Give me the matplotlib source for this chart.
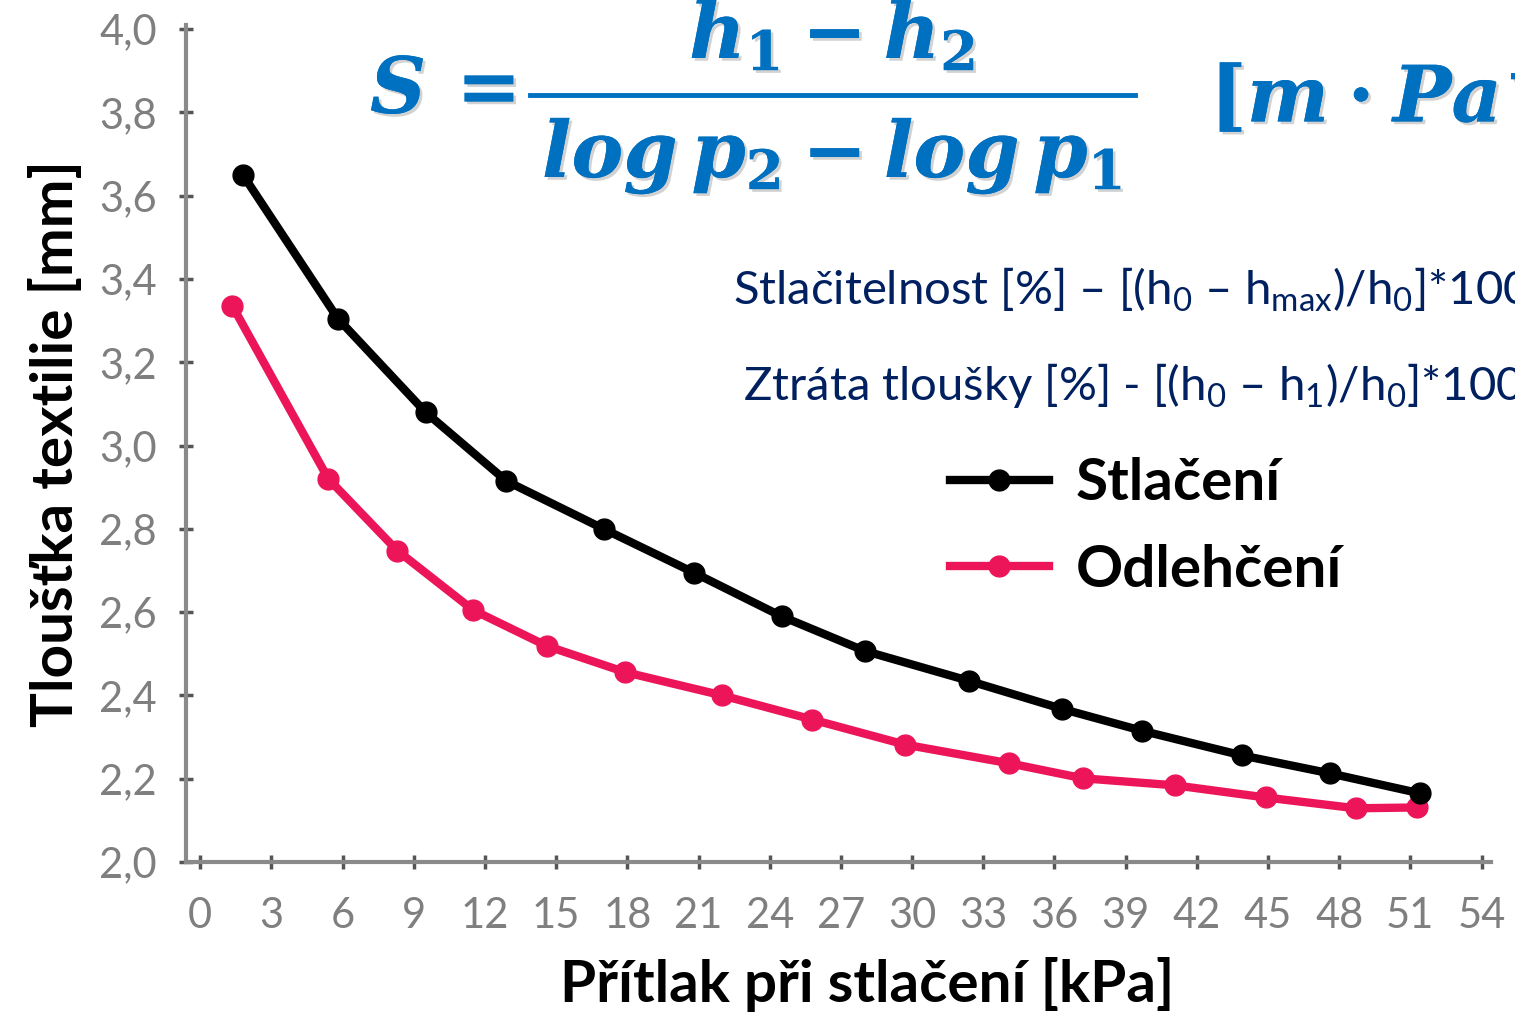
import matplotlib
matplotlib.use('Agg')
import matplotlib.pyplot as plt
import matplotlib.patheffects as pe
from matplotlib.lines import Line2D

plt.rcParams['font.family'] = ['Lato', 'DejaVu Sans']
plt.rcParams['mathtext.fontset'] = 'custom'
plt.rcParams['mathtext.it'] = 'DejaVu Serif:italic:bold'
plt.rcParams['mathtext.rm'] = 'DejaVu Serif:bold'
plt.rcParams['mathtext.bf'] = 'DejaVu Serif:bold'
plt.rcParams['mathtext.sf'] = 'Lato'

# data
x_stlaceni = [1.8, 5.8, 9.5, 12.9, 17.0, 20.8, 24.5, 28.0, 32.4, 36.3, 39.7, 43.9, 47.6, 51.4]
y_stlaceni = [3.65, 3.305, 3.08, 2.915, 2.80, 2.695, 2.59, 2.507, 2.435, 2.368, 2.315, 2.256, 2.213, 2.165]

x_odlehceni = [1.35, 5.4, 8.3, 11.5, 14.6, 17.9, 22.0, 25.8, 29.7, 34.1, 37.2, 41.1, 44.9, 48.7, 51.3]
y_odlehceni = [3.336, 2.92, 2.748, 2.605, 2.519, 2.456, 2.40, 2.342, 2.282, 2.237, 2.201, 2.184, 2.155, 2.129, 2.131]

xticks = list(range(0, 55, 3))
yticks = [2.0, 2.2, 2.4, 2.6, 2.8, 3.0, 3.2, 3.4, 3.6, 3.8, 4.0]
ytick_labels = ['2,0', '2,2', '2,4', '2,6', '2,8', '3,0', '3,2', '3,4', '3,6', '3,8', '4,0']

PINK = '#EC1559'
BLUE = '#0070C0'
NAVY = '#002060'
W, H = 1515, 1013

fig = plt.figure(figsize=(W / 100, H / 100), dpi=100)

def fx(px):
    return px / W

def fy(py):
    return 1 - py / H

ax = fig.add_axes([fx(186), fy(862), fx(1491) - fx(186), fy(25) - fy(862)])

ax.plot(x_stlaceni, y_stlaceni, color='black', lw=6, marker='o', ms=15, label='Stlačení', zorder=3)
ax.plot(x_odlehceni, y_odlehceni, color=PINK, lw=6, marker='o', ms=15, label='Odlehčení', zorder=2)

ax.set_xlim(-0.6, 54.4)
ax.set_ylim(2.0, 4.01)
ax.set_xticks(xticks)
ax.set_yticks(yticks)
ax.set_yticklabels(ytick_labels)

for s in ['top', 'right']:
    ax.spines[s].set_visible(False)
for s in ['left', 'bottom']:
    ax.spines[s].set_color('#8a8a8a')
    ax.spines[s].set_linewidth(3)
ax.tick_params(axis='both', direction='inout', length=10, width=2.5, color='#555555',
               labelcolor='#7f7f7f', labelsize=30)
ax.tick_params(axis='x', pad=20)
ax.tick_params(axis='y', pad=16)

ax.set_xlabel('Přítlak při stlačení [kPa]', fontsize=42, fontweight='bold', labelpad=16)
ax.xaxis.label.set_x(0.522)
ax.set_ylabel('Tloušťka textilie [mm]', fontsize=42, fontweight='bold', labelpad=12)

leg = ax.legend(loc='upper left', bbox_to_anchor=(fx(897), fy(405)), bbox_transform=fig.transFigure,
                frameon=False, prop={'size': 42, 'weight': 'bold'}, handlelength=1.7,
                handletextpad=0.46, labelspacing=0.57)

# formula
shadow = [pe.withSimplePatchShadow(offset=(2, -2), shadow_rgbFace='gray', alpha=0.35), pe.Normal()]
fsize = 56
fig.text(fx(370), fy(92), r'$S\,=$', fontsize=fsize, color=BLUE, va='center', ha='left', path_effects=shadow)
fig.text(fx(832), fy(58), r'$h_1 - h_2$', fontsize=fsize, color=BLUE, va='baseline', ha='center', path_effects=shadow)
fig.add_artist(Line2D([fx(530), fx(1135)], [fy(95), fy(95)], transform=fig.transFigure, color=BLUE, lw=3.5))
fig.text(fx(832), fy(177), r'$log\,p_2 - log\,p_1$', fontsize=fsize, color=BLUE, va='baseline', ha='center', path_effects=shadow)
fig.text(fx(1210), fy(122), r'$[m\cdot Pa^{-1}]$', fontsize=fsize, color=BLUE, va='baseline', ha='left', path_effects=shadow)

fig.text(fx(733), fy(305), r'Stlačitelnost [%] – [(h$_{\mathsf{0}}$ – h$_{\mathsf{max}}$)/h$_{\mathsf{0}}$]*100',
         fontsize=34, color=NAVY, va='baseline', ha='left')
fig.text(fx(743), fy(400), r'Ztráta tloušky [%] - [(h$_{\mathsf{0}}$ – h$_{\mathsf{1}}$)/h$_{\mathsf{0}}$]*100',
         fontsize=34, color=NAVY, va='baseline', ha='left')

fig.savefig('out.png', dpi=100)
